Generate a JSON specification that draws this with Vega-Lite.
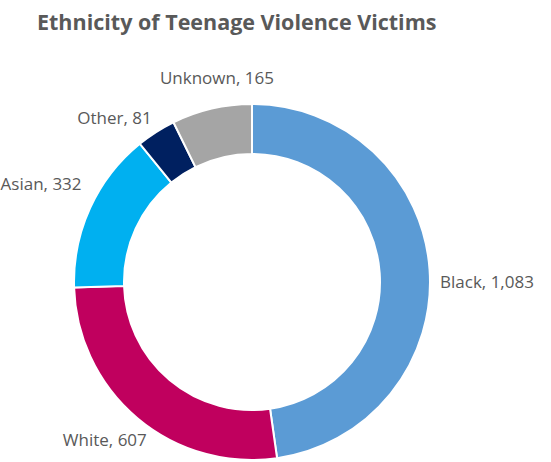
{
  "$schema": "https://vega.github.io/schema/vega-lite/v6.json",
  "width": 504,
  "height": 356,
  "autosize": {"type": "none"},
  "padding": {"left": 0, "top": 104, "right": 47, "bottom": 2},
  "background": "white",
  "title": {
    "text": "Ethnicity of Teenage Violence Victims",
    "anchor": "start",
    "frame": "group",
    "dx": 37,
    "offset": 13,
    "font": "Open Sans",
    "fontSize": 21.5,
    "fontWeight": "bold",
    "color": "#595959"
  },
  "config": {"view": {"stroke": null}},
  "data": {
    "values": [
      {"ethnicity": "Black", "count": 1083, "rank": 1, "label": "Black, 1,083"},
      {"ethnicity": "White", "count": 607, "rank": 2, "label": "White, 607"},
      {"ethnicity": "Asian", "count": 332, "rank": 3, "label": "Asian, 332"},
      {"ethnicity": "Other", "count": 81, "rank": 4, "label": "Other, 81"},
      {"ethnicity": "Unknown", "count": 165, "rank": 5, "label": "Unknown, 165"}
    ]
  },
  "encoding": {
    "theta": {"field": "count", "type": "quantitative", "stack": true},
    "order": {"field": "rank", "type": "quantitative"}
  },
  "layer": [
    {
      "mark": {"type": "arc", "outerRadius": 178, "innerRadius": 128, "stroke": "white", "strokeWidth": 2},
      "encoding": {
        "color": {
          "field": "ethnicity",
          "type": "nominal",
          "scale": {
            "domain": ["Black", "White", "Asian", "Other", "Unknown"],
            "range": ["#5B9BD5", "#C0005E", "#00B0F0", "#002060", "#A5A5A5"]
          },
          "legend": null
        }
      }
    },
    {
      "mark": {"type": "text", "radius": 188.5, "align": "left", "baseline": "middle", "dy": 14, "font": "Open Sans", "fontSize": 17, "fill": "#595959"},
      "encoding": {"text": {"condition": {"test": "datum.ethnicity === 'Black'", "field": "label", "type": "nominal"}, "value": ""}}
    },
    {
      "mark": {"type": "text", "radius": 210, "align": "center", "baseline": "middle", "dx": -12, "dy": -2, "font": "Open Sans", "fontSize": 17, "fill": "#595959"},
      "encoding": {"text": {"condition": {"test": "datum.ethnicity === 'White'", "field": "label", "type": "nominal"}, "value": ""}}
    },
    {
      "mark": {"type": "text", "radius": 232, "align": "center", "baseline": "middle", "font": "Open Sans", "fontSize": 17, "fill": "#595959"},
      "encoding": {"text": {"condition": {"test": "datum.ethnicity === 'Asian'", "field": "label", "type": "nominal"}, "value": ""}}
    },
    {
      "mark": {"type": "text", "radius": 194, "align": "center", "baseline": "middle", "dx": -33, "font": "Open Sans", "fontSize": 17, "fill": "#595959"},
      "encoding": {"text": {"condition": {"test": "datum.ethnicity === 'Other'", "field": "label", "type": "nominal"}, "value": ""}}
    },
    {
      "mark": {"type": "text", "radius": 208, "align": "center", "baseline": "middle", "dx": 12, "font": "Open Sans", "fontSize": 17, "fill": "#595959"},
      "encoding": {"text": {"condition": {"test": "datum.ethnicity === 'Unknown'", "field": "label", "type": "nominal"}, "value": ""}}
    }
  ]
}
